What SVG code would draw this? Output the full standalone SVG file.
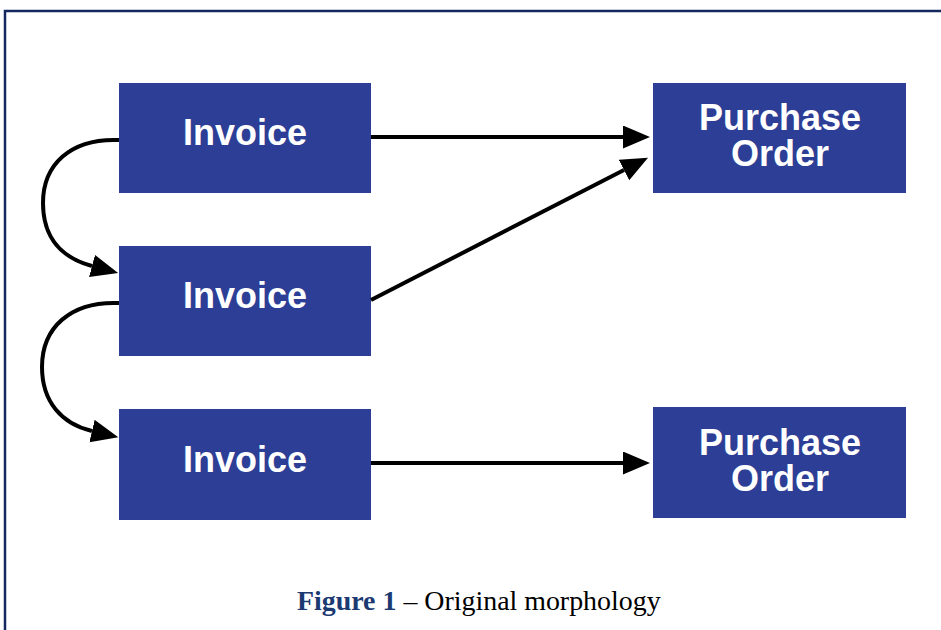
<svg xmlns="http://www.w3.org/2000/svg" width="941" height="630" viewBox="0 0 941 630">
<style>
.box{fill:#2c3e95;}
.lbl{font-family:"Liberation Sans",Arial,sans-serif;font-weight:bold;font-size:36px;fill:#ffffff;text-anchor:middle;}
.conn{fill:none;stroke:#000;stroke-width:4;}
.cap{font-family:"Liberation Serif","Times New Roman",serif;font-size:27.9px;fill:#000;}
</style>
<defs>
<marker id="ah" markerUnits="userSpaceOnUse" markerWidth="28" markerHeight="24" refX="0" refY="11.5" orient="auto" viewBox="0 0 28 24">
<path d="M0,0 L27,11.5 L0,23 z" fill="#000"/>
</marker>
</defs>
<rect width="941" height="630" fill="#fff"/>
<path d="M5,640 V11 H945" fill="none" stroke="#13295e" stroke-width="2.5"/>
<g id="invoice1"><rect class="box" x="119" y="83" width="252" height="110"/><text class="lbl" x="245" y="145">Invoice</text></g>
<g id="invoice2"><rect class="box" x="119" y="246" width="252" height="110"/><text class="lbl" x="245" y="308">Invoice</text></g>
<g id="invoice3"><rect class="box" x="119" y="409" width="252" height="111"/><text class="lbl" x="245" y="472">Invoice</text></g>
<g id="po1"><rect class="box" x="653" y="83" width="253" height="110"/><text class="lbl" x="780" y="130">Purchase<tspan x="780" dy="36">Order</tspan></text></g>
<g id="po2"><rect class="box" x="653" y="407" width="253" height="111"/><text class="lbl" x="780" y="455">Purchase<tspan x="780" dy="36">Order</tspan></text></g>
<g id="connectors">
<path class="conn" d="M371,137 H623" marker-end="url(#ah)"/>
<path class="conn" d="M371,300 L624,170" marker-end="url(#ah)"/>
<path class="conn" d="M371,463 H623" marker-end="url(#ah)"/>
<path class="conn" d="M119,140 C70,138 43,165 43,203 C43,238 62,258 92,266" marker-end="url(#ah)"/>
<path class="conn" d="M119,303 C70,301 42,328 42,367 C42,402 62,424 92,431" marker-end="url(#ah)"/>
</g>
<text class="cap" x="297" y="610"><tspan font-weight="bold" fill="#1c3a72">Figure 1</tspan> – Original morphology</text>
</svg>
